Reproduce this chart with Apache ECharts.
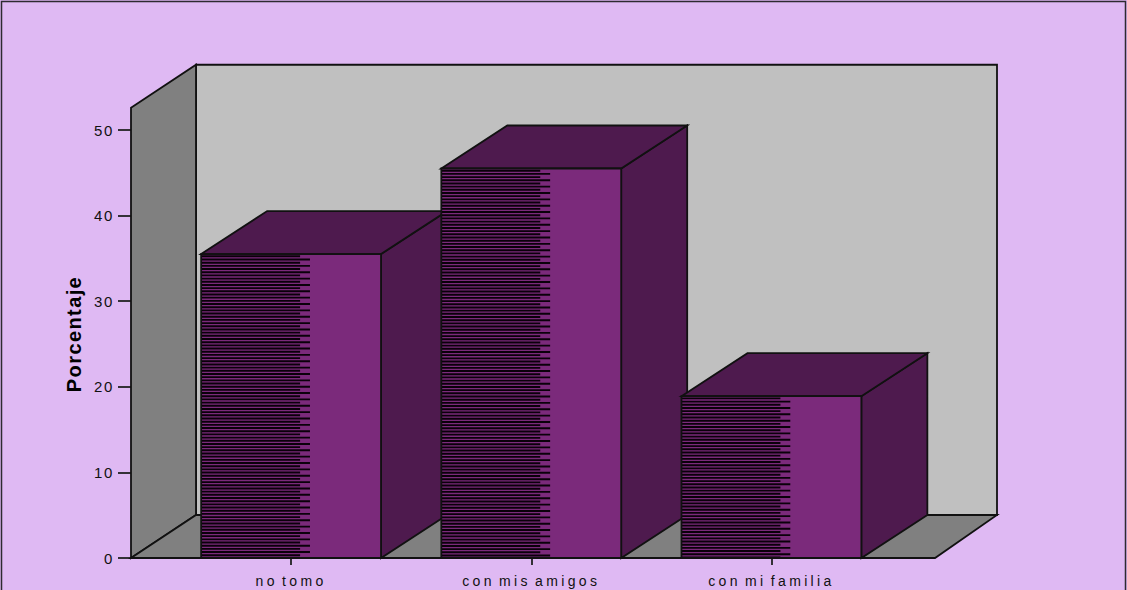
<!DOCTYPE html>
<html>
<head>
<meta charset="utf-8">
<style>
  html, body { margin: 0; padding: 0; background: #DFB9F3; overflow: hidden; }
  #chart { width: 1127px; height: 590px; }
  /* Wide tracking per text size, since the SVG renderer leaves this to CSS */
  #chart text[style*="14px"] { letter-spacing: 3.35px; word-spacing: -3px; }
  #chart text[style*="15px"] { letter-spacing: 1.6px; }
  #chart text[style*="20px"] { letter-spacing: 1.4px; }
</style>
</head>
<body>
<div id="chart"></div>
<script src="https://cdn.jsdelivr.net/npm/echarts@6/dist/echarts.min.js"></script>
<script>
const categories = ['no tomo', 'con mis amigos', 'con mi familia'];
const percentages = [35.5, 45.5, 18.9];
const axisMax = 50;
const wallTop = 52.6;
const yTicks = [0, 10, 20, 30, 40, 50];

const COLORS = {
  page: '#DFB9F3',
  frame: '#2e2b30',
  backWall: '#C0C0C0',
  sideWall: '#808080',
  front: '#7B2A7B',
  shade: '#4E1A4E',
  edge: '#111111'
};
const ROOM_DEPTH_X = 65;
const BAR_DEPTH_X = 66;
const DEPTH_Y = 43;
const BAR_RATIO = 0.749;
const HATCH_PITCH = 3.18;

const edge = { stroke: COLORS.edge, lineWidth: 1.8, lineJoin: 'miter' };

function poly(points, fill, z2) {
  return { type: 'polygon', z2, shape: { points }, style: Object.assign({ fill }, edge) };
}

// Floor and the two walls of the box, placed from the axis scales
function renderRoom(params, api) {
  const band = api.size([1, 0])[0];
  const origin = api.coord([0, 0]);
  const top = api.coord([0, api.value(1)]);
  const left = origin[0] - band / 2 - 40;
  const right = origin[0] + band * 2.5 + 43.5;
  const base = origin[1];
  const high = top[1];
  const dx = ROOM_DEPTH_X;
  return {
    type: 'group',
    children: [
      poly([[left + dx, high - DEPTH_Y], [right + dx - 3, high - DEPTH_Y],
            [right + dx - 3, base - DEPTH_Y], [left + dx, base - DEPTH_Y]], COLORS.backWall, 1),
      poly([[left, high], [left + dx, high - DEPTH_Y],
            [left + dx, base - DEPTH_Y], [left, base]], COLORS.sideWall, 2),
      poly([[left, base], [left + dx, base - DEPTH_Y],
            [right + dx - 3, base - DEPTH_Y], [right, base]], COLORS.sideWall, 3)
    ]
  };
}

// One extruded bar: front face with its stripe fill, then top and side
function renderBar(params, api) {
  const i = api.value(0);
  const v = api.value(1);
  const topPt = api.coord([i, v]);
  const basePt = api.coord([i, 0]);
  const w = api.size([1, 0])[0] * BAR_RATIO;
  const x0 = topPt[0] - w / 2;
  const x1 = topPt[0] + w / 2;
  const yT = topPt[1];
  const yB = basePt[1];
  const dx = BAR_DEPTH_X;
  const children = [
    poly([[x1, yT], [x1 + dx, yT - DEPTH_Y], [x1 + dx, yB - DEPTH_Y], [x1, yB]], COLORS.shade, 10),
    poly([[x0, yT], [x0 + dx, yT - DEPTH_Y], [x1 + dx, yT - DEPTH_Y], [x1, yT]], COLORS.shade, 10),
    { type: 'rect', z2: 11, shape: { x: x0, y: yT, width: w, height: yB - yT },
      style: { fill: COLORS.front } }
  ];
  let row = 0;
  for (let y = yT + 2.2; y < yB - 0.5; y += HATCH_PITCH) {
    const reach = row % 2 === 0 ? w * 0.55 : w * 0.605;
    children.push({
      type: 'line', z2: 12,
      shape: { x1: x0, y1: y, x2: x0 + reach, y2: y },
      style: { stroke: '#0a000a', lineWidth: 1.9 }
    });
    row++;
  }
  children.push({ type: 'rect', z2: 13, shape: { x: x0, y: yT, width: w, height: yB - yT },
    style: Object.assign({ fill: 'none' }, edge) });
  return { type: 'group', children };
}

const chart = echarts.init(document.getElementById('chart'), null, { renderer: 'svg' });
chart.setOption({
  backgroundColor: COLORS.page,
  animation: false,
  grid: { left: 171, right: 235.5, top: 130, bottom: 32 },
  xAxis: {
    type: 'category',
    data: categories,
    axisLine: { show: false },
    axisTick: { show: true, alignWithLabel: true, length: 7, lineStyle: { color: '#222', width: 1.8 } },
    axisLabel: { margin: 16, fontFamily: 'Liberation Sans', fontSize: 14, color: '#111', interval: 0 }
  },
  yAxis: {
    type: 'value',
    min: 0,
    max: axisMax,
    interval: 10,
    offset: 40,
    splitLine: { show: false },
    axisLine: { show: false },
    axisTick: { show: true, length: 13, lineStyle: { color: '#222', width: 1.8 } },
    axisLabel: {
      margin: 17, fontFamily: 'Liberation Sans', fontSize: 15, color: '#111',
      customValues: yTicks
    }
  },
  graphic: [
    { type: 'rect', silent: true, z: 100,
      shape: { x: 1.5, y: 1.5, width: 1124, height: 620 },
      style: { fill: 'none', stroke: COLORS.frame, lineWidth: 1.5 } },
    { type: 'text', z: 100, x: 74, y: 334, rotation: Math.PI / 2,
      style: { text: 'Porcentaje', font: 'bold 20px "Liberation Sans"', fill: '#000',
               align: 'center', verticalAlign: 'middle' } }
  ],
  series: [
    { type: 'custom', z: 1, renderItem: renderRoom, clip: false, silent: true,
      encode: { x: 0, y: 1 }, data: [[0, wallTop]] },
    { type: 'custom', z: 2, renderItem: renderBar, clip: false, silent: true,
      encode: { x: 0, y: 1 }, data: percentages.map((v, i) => [i, v]) }
  ]
});
</script>
</body>
</html>
